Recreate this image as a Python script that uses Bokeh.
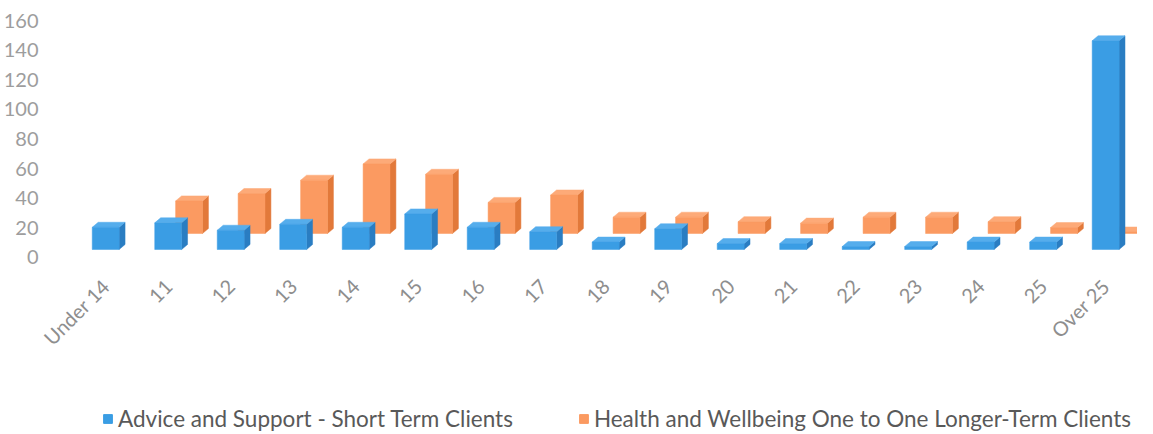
import numpy as np
from bokeh.plotting import figure
from bokeh.layouts import column
from bokeh.models import ColumnDataSource, Range1d, FixedTicker, Legend, LegendItem
from bokeh.embed import file_html
from bokeh.resources import INLINE

# ---- data -------------------------------------------------------------
categories = ["Under 14", "11", "12", "13", "14", "15", "16", "17", "18",
              "19", "20", "21", "22", "23", "24", "25", "Over 25"]
advice_short_term = [15, 18, 13, 17, 15, 24, 15, 12, 5, 14, 4, 4, 2, 2, 5, 5, 141]
health_longer_term = [0, 22, 27, 36, 47, 40, 21, 26, 11, 11, 8, 7, 11, 11, 8, 4, 1]
series_names = ["Advice and Support - Short Term Clients",
                "Health and Wellbeing One to One Longer-Term Clients"]
y_ticks = [0, 20, 40, 60, 80, 100, 120, 140, 160]

# ---- style constants (pseudo 3-D look) ---------------------------------
BAR_W = 0.43       # front face width (category units)
DX = 0.095         # depth offset in x
DY = 3.4           # depth offset in y (data units)
BLUE_BASE = 5.4    # floor of front row
ORANGE_BASE = 16.2 # floor of back row
ORANGE_SHIFT = 0.334

BLUE = ("#3a9de4", "#55adec", "#2a7dc2")     # front, top, side
ORANGE = ("#fb9a61", "#fdaa78", "#e2793a")

p = figure(width=1137, height=384, output_backend="svg", toolbar_location=None,
           x_range=Range1d(-0.819, 16.51), y_range=Range1d(-3.38, 165.5),
           min_border_left=47, min_border_right=0, min_border_top=12,
           min_border_bottom=122)
p.outline_line_color = None
p.xgrid.visible = False
p.ygrid.visible = False


def draw_series(values, shift, base, colors):
    x = np.arange(len(values)) + shift
    v = np.array(values, dtype=float)
    mask = v > 0
    x, v = x[mask], v[mask]
    top = base + v
    left = x - BAR_W / 2
    right = x + BAR_W / 2
    side_xs = [[r, r + DX, r + DX, r] for r in right]
    side_ys = [[base, base + DY, t + DY, t] for t in top]
    p.patches(side_xs, side_ys, fill_color=colors[2], line_color=colors[2], line_width=0.5)
    top_xs = [[l, r, r + DX, l + DX] for l, r in zip(left, right)]
    top_ys = [[t, t, t + DY, t + DY] for t in top]
    p.patches(top_xs, top_ys, fill_color=colors[1], line_color=colors[1], line_width=0.5)
    src = ColumnDataSource(dict(x=x, top=top, bottom=np.full(len(x), base)))
    p.vbar(x="x", top="top", bottom="bottom", width=BAR_W, source=src,
           fill_color=colors[0], line_color=colors[0], line_width=0.5)


draw_series(health_longer_term, ORANGE_SHIFT, ORANGE_BASE, ORANGE)
draw_series(advice_short_term, 0.0, BLUE_BASE, BLUE)

# axes
p.xaxis.ticker = FixedTicker(ticks=list(range(len(categories))))
p.xaxis.major_label_overrides = {i: c for i, c in enumerate(categories)}
p.xaxis.major_label_orientation = np.pi / 4
p.xaxis.major_label_standoff = 14
p.yaxis.ticker = FixedTicker(ticks=y_ticks)
p.yaxis.major_label_standoff = 10
for ax in (p.xaxis[0], p.yaxis[0]):
    ax.axis_line_color = None
    ax.major_tick_line_color = None
    ax.minor_tick_line_color = None
    ax.major_label_text_font = "Lato"
    ax.major_label_text_font_size = "20px"
p.xaxis.major_label_text_color = "#8e8e8e"
p.yaxis.major_label_text_color = "#9d9d9d"

# ---- legend strip ---------------------------------------------------------
pl = figure(width=1137, height=48, output_backend="svg", toolbar_location=None,
            x_range=Range1d(0, 1), y_range=Range1d(0, 1),
            min_border_left=0, min_border_right=0, min_border_top=0,
            min_border_bottom=0)
pl.axis.visible = False
pl.grid.visible = False
pl.outline_line_color = None
# zero-size key glyphs (only their legend swatches are seen)
rb = pl.vbar(x=[0], top=[0], bottom=[0], width=0, fill_color=BLUE[0], line_color=BLUE[0])
ro = pl.vbar(x=[0], top=[0], bottom=[0], width=0, fill_color=ORANGE[0], line_color=ORANGE[0])

legend = Legend(items=[LegendItem(label=series_names[0], renderers=[rb]),
                       LegendItem(label=series_names[1], renderers=[ro])],
                orientation="horizontal", location=(48, 0))
legend.border_line_color = None
legend.background_fill_alpha = 0
legend.label_text_font = "Lato"
legend.label_text_font_size = "22.5px"
legend.label_text_color = "#595959"
legend.glyph_width = 11
legend.glyph_height = 11
legend.label_standoff = 5
legend.spacing = 65
legend.padding = 0
legend.margin = 0
pl.add_layout(legend)

layout = column(p, pl, spacing=0)
open("out.html", "w").write(file_html(layout, INLINE))
